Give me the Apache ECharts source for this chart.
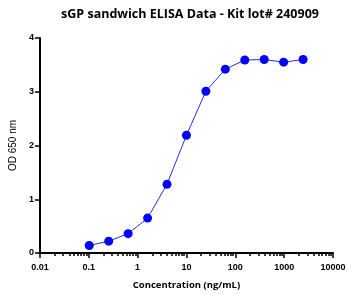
<!DOCTYPE html>
<html>
<head>
<meta charset="utf-8">
<script src="https://cdn.jsdelivr.net/npm/echarts@6/dist/echarts.min.js"></script>
<style>
  html, body { margin: 0; padding: 0; background: #fff; }
  #main { width: 360px; height: 298px; }
</style>
</head>
<body>
<div id="main"></div>
<script>
// concentrations (ng/mL), 2.5-fold dilution series
const conc = [0.1024, 0.256, 0.64, 1.6, 4, 10, 25, 62.5, 156.25, 390.6, 976.6, 2441.4]
// OD 650 nm readings
const od = [0.14, 0.22, 0.36, 0.65, 1.28, 2.19, 3.01, 3.42, 3.59, 3.60, 3.55, 3.60]

let chart = echarts.init(document.querySelector('#main'))

const axisFont = {
  color: '#000',
  fontFamily: 'Liberation Sans',
  fontWeight: 'bold',
  fontSize: 9
}

let option = {
  animation: false,
  title: {
    text: 'sGP sandwich ELISA Data - Kit lot# 240909',
    left: 185,
    textAlign: 'center',
    top: 3,
    textStyle: {
      fontFamily: 'Open Sans',
      fontWeight: 'bold',
      fontSize: 12.5,
      color: '#000'
    }
  },
  grid: {
    left: 36,
    right: 27,
    top: 38,
    bottom: 45
  },
  xAxis: {
    type: 'log',
    logBase: 10,
    min: 0.01,
    max: 10000,
    name: 'Concentration (ng/mL)',
    nameLocation: 'middle',
    nameGap: 27,
    nameTextStyle: {
      fontFamily: 'Open Sans',
      fontWeight: 'bold',
      fontSize: 9.5,
      color: '#000'
    },
    axisLine: { lineStyle: { color: '#000', width: 2 } },
    axisTick: { inside: false, length: 5, lineStyle: { color: '#000', width: 1.5 } },
    minorTick: { show: true, splitNumber: 9, length: 3, lineStyle: { color: '#000', width: 1.5 } },
    splitLine: { show: false },
    axisLabel: Object.assign({ margin: 10, formatter: v => String(v) }, axisFont)
  },
  yAxis: {
    type: 'value',
    min: 0,
    max: 4,
    interval: 1,
    name: 'OD 650 nm',
    nameLocation: 'middle',
    nameGap: 20,
    nameTextStyle: {
      fontFamily: 'Liberation Sans',
      fontSize: 10,
      color: '#000'
    },
    axisLine: { show: true, lineStyle: { color: '#000', width: 2 } },
    axisTick: { show: true, length: 5, lineStyle: { color: '#000', width: 1.5 } },
    splitLine: { show: false },
    axisLabel: Object.assign({ margin: 6 }, axisFont)
  },
  series: [
    {
      type: 'line',
      data: conc.map((c, i) => [c, od[i]]),
      symbol: 'circle',
      symbolSize: 9,
      itemStyle: { color: '#0000ff' },
      lineStyle: { color: '#2a2af0', width: 1 }
    }
  ]
}

chart.setOption(option)
</script>
</body>
</html>
